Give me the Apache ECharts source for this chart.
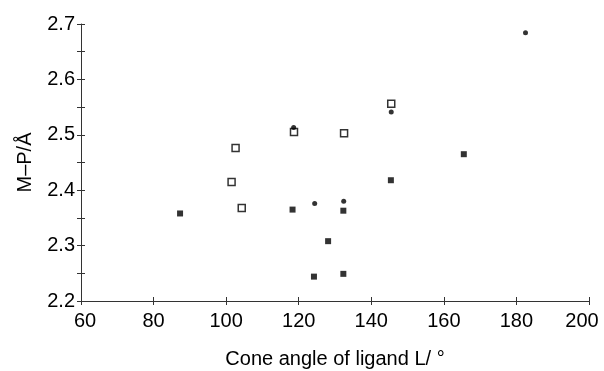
<!DOCTYPE html>
<html><head><meta charset="utf-8">
<script src="https://cdn.jsdelivr.net/npm/echarts@6/dist/echarts.min.js"></script>
<style>html,body{margin:0;padding:0;background:#fff}#c{width:604px;height:371px}</style>
</head><body><div id="c"></div>
<script>
const filledX = [87.3, 118.3, 132.3, 128.1, 124.2, 132.3, 145.4, 165.5];
const filledY = [2.358, 2.365, 2.363, 2.308, 2.244, 2.249, 2.418, 2.465];
const openX = [102.6, 101.5, 104.3, 118.7, 132.5, 145.5];
const openY = [2.476, 2.415, 2.368, 2.505, 2.503, 2.556];
const dotX = [118.6, 124.4, 132.4, 145.5, 182.5];
const dotY = [2.513, 2.376, 2.380, 2.541, 2.684];
const xTitle = 'Cone angle of ligand L/ °';
const yTitle = 'M–P/Å';

const zip = (a, b) => a.map((v, i) => [v, b[i]]);
const font = '"Liberation Sans", Arial, sans-serif';
const ink = '#000';

const chart = echarts.init(document.getElementById('c'), null, {renderer: 'canvas'});
const xBase = {type: 'value', min: 60, max: 200, interval: 20, splitLine: {show: false}, gridIndex: 0};
const yBase = {type: 'value', min: 2.2, max: 2.7, interval: 0.05, splitLine: {show: false}, gridIndex: 0};
const lblStyle = {color: ink, fontSize: 20, fontFamily: font};
chart.setOption({
  animation: false,
  backgroundColor: '#fff',
  grid: {left: 81, right: 15, top: 24, bottom: 70, containLabel: false, outerBoundsMode: 'none'},
  xAxis: [
    Object.assign({}, xBase, {
      position: 'bottom',
      name: xTitle, nameLocation: 'middle', nameGap: 48,
      nameTextStyle: {color: ink, fontSize: 20, fontFamily: font},
      axisLine: {lineStyle: {color: '#333', width: 1}},
      axisTick: {show: true, length: 4, lineStyle: {color: '#333'}},
      axisLabel: Object.assign({}, lblStyle, {
        margin: 10,
        formatter: v => (v === 200 ? '{last|' + v + '}' : v === 60 ? '{first|' + v + '}' : String(v)),
        rich: {
          last: Object.assign({}, lblStyle, {padding: [0, 14, 0, 0]}),
          first: Object.assign({}, lblStyle, {padding: [0, 0, 0, 8]})
        }
      })
    }),
    Object.assign({}, xBase, {
      position: 'bottom',
      axisLine: {show: false},
      axisTick: {show: true, inside: true, length: 4, lineStyle: {color: '#333'}},
      axisLabel: {show: false}
    })
  ],
  yAxis: [
    Object.assign({}, yBase, {
      position: 'left',
      name: yTitle, nameLocation: 'middle', nameGap: 46, nameRotate: 90,
      nameTextStyle: {color: ink, fontSize: 20, fontFamily: font},
      axisLine: {show: true, lineStyle: {color: '#333', width: 1}},
      axisTick: {show: true, length: 4, lineStyle: {color: '#333'}},
      axisLabel: Object.assign({}, lblStyle, {
        margin: 6,
        formatter: v => (Math.round(v * 100) % 10 === 0 ? v.toFixed(1) : '')
      })
    }),
    Object.assign({}, yBase, {
      position: 'left',
      axisLine: {show: false},
      axisTick: {show: true, inside: true, length: 4, lineStyle: {color: '#333'}},
      axisLabel: {show: false}
    })
  ],
  series: [
    {type: 'scatter', xAxisIndex: 0, yAxisIndex: 0, symbol: 'rect', symbolSize: 6,
     itemStyle: {color: ink}, data: zip(filledX, filledY)},
    {type: 'scatter', xAxisIndex: 0, yAxisIndex: 0, symbol: 'rect', symbolSize: 7,
     itemStyle: {color: '#fff', borderColor: ink, borderWidth: 1.5}, data: zip(openX, openY)},
    {type: 'scatter', xAxisIndex: 0, yAxisIndex: 0, symbol: 'circle', symbolSize: 5,
     itemStyle: {color: ink}, data: zip(dotX, dotY)}
  ]
});
</script></body></html>
